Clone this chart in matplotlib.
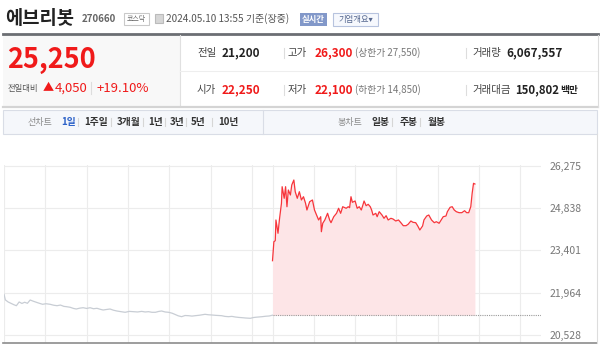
import matplotlib
matplotlib.use('Agg')
import matplotlib.pyplot as plt
from matplotlib.patches import Rectangle
from matplotlib.lines import Line2D

plt.rcParams['font.family'] = ['Noto Sans CJK KR', 'DejaVu Sans']

# --- data ---
session_len = 390  # 09:00 ~ 15:30, minutes
prev_close = 21200
y_ticks = [20528, 21964, 23401, 24838, 26275]
hour_marks = [0, 60, 120, 180, 240, 300, 360]

# previous session (gray), minutes from 09:00
prev_min = [0, 2, 6, 10, 14, 18, 22, 26, 30, 34,
            38, 42, 47, 52, 56, 61, 67, 72, 77, 82,
            87, 91, 96, 101, 105, 110, 115, 120, 125, 130,
            135, 140, 144, 149, 154, 159, 164, 170, 176, 182,
            188, 194, 200, 205, 210, 215, 220, 225, 229, 234,
            239, 244, 248, 253, 258, 263, 268, 273, 278, 284,
            292, 297, 302, 308, 316, 321, 326, 331, 336, 341,
            346, 351, 358, 362, 365, 370, 375, 380, 385, 390]
prev_px = [21911, 21720, 21650, 21605, 21560, 21523, 21650, 21600, 21640, 21605,
           21717, 21680, 21639, 21600, 21571, 21590, 21571, 21540, 21523, 21545,
           21500, 21489, 21470, 21430, 21411, 21440, 21455, 21430, 21455, 21420,
           21435, 21400, 21377, 21395, 21411, 21370, 21343, 21320, 21299, 21330,
           21320, 21310, 21330, 21310, 21320, 21299, 21299, 21330, 21343, 21310,
           21299, 21270, 21231, 21180, 21150, 21190, 21184, 21170, 21184, 21200,
           21231, 21215, 21207, 21195, 21184, 21160, 21150, 21160, 21139, 21125,
           21116, 21105, 21095, 21120, 21129, 21140, 21150, 21165, 21173, 21200]

# today's session (red), minutes from 09:00
today_min = [0, 2, 4, 5, 8, 10, 13, 14, 17, 19,
             21, 23, 26, 28, 31, 33, 36, 39, 42, 45,
             48, 50, 54, 58, 61, 65, 67, 70, 71, 73,
             76, 80, 83, 85, 89, 93, 96, 99, 102, 107,
             110, 112, 114, 116, 120, 123, 126, 129, 131, 133,
             136, 139, 142, 144, 146, 150, 152, 155, 159, 162,
             165, 168, 172, 175, 179, 183, 186, 190, 194, 197,
             201, 204, 208, 211, 214, 218, 220, 224, 227, 231,
             235, 238, 242, 245, 248, 252, 254, 258, 261, 264,
             267, 271, 275, 279, 282, 285, 288, 290, 292, 294]
today_px = [23052, 23697, 23731, 24435, 23983, 24435, 25002, 25566, 25172, 25566,
            24886, 25454, 25284, 25624, 25793, 25396, 25172, 25396, 25114, 25226,
            25002, 24774, 25056, 25114, 24774, 24547, 24435, 24547, 24037, 24323,
            24435, 24662, 24435, 24343, 24547, 24662, 24832, 24662, 24886, 24832,
            24886, 24852, 25226, 25036, 25080, 24832, 24886, 24774, 24920, 25080,
            24920, 24968, 24886, 24774, 24604, 24662, 24547, 24717, 24604, 24492,
            24581, 24435, 24492, 24469, 24401, 24435, 24356, 24241, 24241, 24289,
            24401, 24356, 24343, 24231, 24095, 24231, 24435, 24570, 24604, 24435,
            24343, 24377, 24323, 24435, 24547, 24570, 24717, 24866, 24886, 24774,
            24717, 24683, 24683, 24750, 24683, 24683, 24886, 25341, 25681, 25657]

W, H = 600, 345
fig = plt.figure(figsize=(W / 100, H / 100), dpi=100)
fig.patch.set_facecolor('white')


def txt(x, y, s, size, color='#333333', weight='normal', ha='left', va='center'):
    fig.text(x / W, 1 - y / H, s, fontsize=size, color=color, fontweight=weight, ha=ha, va=va)


def rect(x0, y0, x1, y1, fc, ec='none', lw=0.8):
    fig.patches.append(Rectangle((x0 / W, 1 - y1 / H), (x1 - x0) / W, (y1 - y0) / H,
                                 transform=fig.transFigure, fc=fc, ec=ec, lw=lw))


def line(x0, y0, x1, y1, color, lw=1.0):
    fig.add_artist(Line2D([x0 / W, x1 / W], [1 - y0 / H, 1 - y1 / H], color=color, lw=lw))


# --- header ---
txt(5, 18, '에브리봇', 13.5, '#222222', 'bold')
txt(82, 19, '270660', 7, '#666666', 'bold')
rect(124, 13, 149, 25, 'white', '#c9c9c9')
txt(136.5, 19, '코스닥', 5, '#666666', ha='center')
rect(155, 14, 163, 23, '#d6d6d6', '#bbbbbb')
txt(166, 19, '2024.05.10 13:55 기준(장중)', 7.2, '#555555')
rect(300, 13, 327, 26, '#8298c9')
txt(313.5, 19.5, '실시간', 6, 'white', 'bold', ha='center')
rect(333, 13, 378, 26, '#f6f8fd', '#b7c3de')
txt(355.5, 19.5, '기업개요▾', 6, '#55678f', ha='center')
line(3, 34, 598, 34, '#6b6e73', 2)

# --- price summary ---
rect(3, 35, 180, 106, '#f8f8f8')
line(180, 35, 180, 106, '#e0e0e0', 0.8)
line(180, 71, 598, 71, '#eeeeee', 0.8)
line(3, 107, 598, 107, '#d4d4d4', 1.6)
line(598, 35, 598, 107, '#dddddd', 0.8)
txt(7, 60, '25,250', 19.5, '#f01a1a', 'bold')
txt(8, 88, '전일대비', 6, '#555555')
txt(43, 88, '▲', 8, '#f01a1a')
txt(55, 88, '4,050', 9.5, '#f01a1a')
line(91, 82, 91, 94, '#dddddd', 0.8)
txt(97, 88, '+19.10%', 9.5, '#f01a1a')

txt(197, 53, '전일', 7.5, '#444444')
txt(222, 53, '21,200', 8.5, '#222222', 'bold')
txt(197, 90, '시가', 7.5, '#444444')
txt(222, 90, '22,250', 8.5, '#f01a1a', 'bold')
for yy in (53, 90):
    line(284, yy - 5, 284, yy + 5, '#dddddd', 0.8)
    line(466, yy - 5, 466, yy + 5, '#dddddd', 0.8)
txt(288, 53, '고가', 7.5, '#444444')
txt(315, 53, '26,300', 8.5, '#f01a1a', 'bold')
txt(355, 53, '(상한가 27,550)', 7, '#777777')
txt(288, 90, '저가', 7.5, '#444444')
txt(315, 90, '22,100', 8.5, '#f01a1a', 'bold')
txt(355, 90, '(하한가 14,850)', 7, '#777777')
txt(472, 53, '거래량', 7.5, '#444444')
txt(506, 53, '6,067,557', 8.5, '#222222', 'bold')
txt(472, 90, '거래대금', 7.5, '#444444')
txt(515, 90, '150,802', 8.2, '#222222', 'bold')
txt(560, 90, '백만', 7, '#222222', 'bold')

# --- tab bar ---
rect(3, 110, 597, 134, '#f5f7fb', '#d9dde6')
line(263, 110, 263, 134, '#d9dde6', 0.8)
txt(28, 122, '선차트', 6.5, '#8a8a8a')
txt(61, 122, '1일', 7, '#2d62c8', 'bold')
tabs = [('1주일', 84), ('3개월', 117), ('1년', 148), ('3년', 170), ('5년', 191), ('10년', 218)]
for s, xx in tabs:
    txt(xx, 122, s, 7, '#333333', 'bold')
for xx in (78, 111, 143, 165, 186, 212):
    line(xx, 118, xx, 126, '#d6d6d6', 0.8)
txt(337, 122, '봉차트', 6.5, '#8a8a8a')
txt(372, 122, '일봉', 7, '#333333', 'bold')
txt(400, 122, '주봉', 7, '#333333', 'bold')
txt(428, 122, '월봉', 7, '#333333', 'bold')
for xx in (392, 420):
    line(xx, 118, xx, 126, '#d6d6d6', 0.8)

# --- chart ---
ax = fig.add_axes([4 / W, (H - 343) / H, 537 / W, 178 / H])
ax.set_xlim(0, 2 * session_len)
ax.set_ylim(20256, 26303)
for s in ax.spines.values():
    s.set_visible(False)
grid_x = hour_marks + [session_len + m for m in hour_marks]
ax.set_xticks(grid_x)
ax.set_xticklabels([])
ax.set_yticks(y_ticks)
ax.set_yticklabels([f'{v:,}' for v in y_ticks])
ax.yaxis.tick_right()
ax.tick_params(length=0, labelsize=7.5, labelcolor='#777777', pad=6)
ax.grid(True, color='#ececec', lw=0.8)
ax.set_axisbelow(True)

ax.plot(prev_min, prev_px, color='#c8cdd4', lw=0.9)
tx = [session_len + m for m in today_min]
ax.fill_between(tx, today_px, prev_close, color='#fde5e7', lw=0)
ax.hlines(prev_close, session_len, 2 * session_len, color='#9a9a9a', lw=0.8,
          linestyles=(0, (1, 1)))
ax.plot(tx, today_px, color='#f7353b', lw=0.9)

line(3, 343, 597, 343, '#8c8c8c', 1.2)
line(597, 134, 597, 343, '#dddddd', 0.8)

fig.savefig('out.png', dpi=100)
